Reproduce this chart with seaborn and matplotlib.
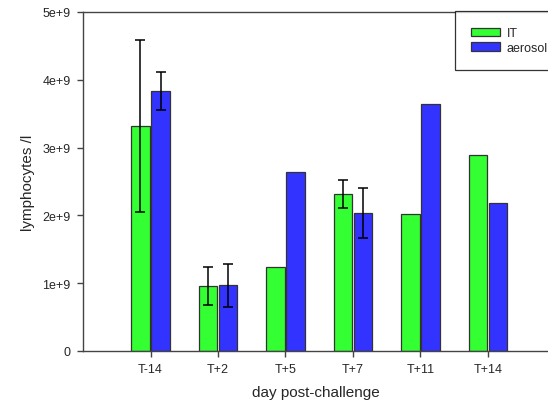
import numpy as np
import pandas as pd
import seaborn as sns
import matplotlib.pyplot as plt

# values
days = ['T-14', 'T+2', 'T+5', 'T+7', 'T+11', 'T+14']
groups = ['IT', 'aerosol']
it_vals = [3.32e9, 0.955e9, 1.235e9, 2.32e9, 2.02e9, 2.89e9]
aer_vals = [3.83e9, 0.97e9, 2.64e9, 2.035e9, 3.64e9, 2.18e9]
it_err = [1.265e9, 0.28e9, np.nan, 0.205e9, np.nan, np.nan]
aer_err = [0.28e9, 0.315e9, np.nan, 0.375e9, np.nan, np.nan]
y_ticks = [0, 1e9, 2e9, 3e9, 4e9, 5e9]
y_labels = ['0', '1e+9', '2e+9', '3e+9', '4e+9', '5e+9']

df = pd.DataFrame({
    'day': days * 2,
    'group': ['IT'] * len(days) + ['aerosol'] * len(days),
    'value': it_vals + aer_vals,
    'err': it_err + aer_err,
})

sns.set_style('white')
plt.rcParams['font.family'] = ['Liberation Sans', 'DejaVu Sans']

fig = plt.figure(figsize=(5.48, 4.10), dpi=100)
ax = fig.add_axes([0.1515, 0.1415, 0.8485, 0.8268])

palette = {'IT': '#33ff33', 'aerosol': '#3333ff'}
sns.barplot(data=df, x='day', y='value', hue='group', hue_order=groups,
            order=days, palette=palette, width=0.6, gap=0.08,
            edgecolor='#333333', linewidth=0.9, saturation=1,
            errorbar=None, ax=ax)

# error bars at the centre of each drawn bar
for cont, grp in zip(ax.containers, groups):
    sub = df[df['group'] == grp].set_index('day').loc[days]
    xs = [p.get_x() + p.get_width() / 2 for p in cont.patches]
    ax.errorbar(xs, sub['value'], yerr=sub['err'], fmt='none',
                ecolor='black', elinewidth=1.1, capsize=3.6, capthick=1.1)

ax.set_xlim(-1, 5.89)
ax.set_ylim(0, 5e9)
ax.set_yticks(y_ticks)
ax.set_yticklabels(y_labels)
ax.tick_params(axis='both', direction='out', length=4.5, width=1,
               color='#444444', labelsize=9, pad=4.5, left=True, bottom=True)
for side in ['left', 'bottom', 'top']:
    ax.spines[side].set_color('#444444')
    ax.spines[side].set_linewidth(1)
ax.spines['right'].set_visible(False)

ax.set_xlabel('day post-challenge', fontsize=11, labelpad=7)
ax.set_ylabel('lymphocytes /l', fontsize=11, labelpad=5)

leg = ax.legend(loc='upper left', bbox_to_anchor=(0.8, 1.003), fontsize=9,
                frameon=True, fancybox=False, edgecolor='black',
                handlelength=2.3, handleheight=0.65, borderpad=1.3,
                labelspacing=0.2, handletextpad=0.55, borderaxespad=0)
leg.get_frame().set_linewidth(0.9)

fig.savefig('out.png', dpi=100)
